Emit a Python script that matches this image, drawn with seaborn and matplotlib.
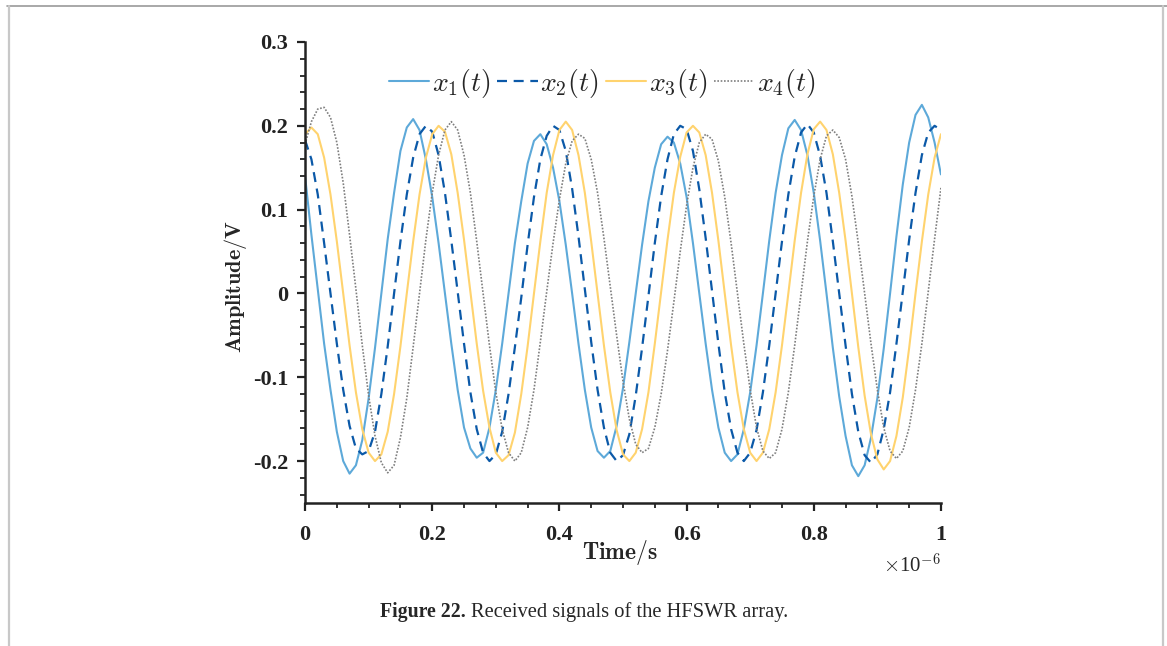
import numpy as np
import pandas as pd
import matplotlib
matplotlib.use("Agg")
import matplotlib.pyplot as plt
from matplotlib.lines import Line2D
from matplotlib.ticker import MultipleLocator
import seaborn as sns

# time axis in units of 1e-6 s
time_us = [round(0.01 * i, 2) for i in range(101)]

x1_vals = [0.14, 0.07, 0.005, -0.06, -0.115, -0.165, -0.2, -0.215, -0.205, -0.175,
           -0.125, -0.065, 0.0, 0.065, 0.12, 0.17, 0.198, 0.208, 0.195, 0.16,
           0.115, 0.06, 0.0, -0.06, -0.115, -0.16, -0.185, -0.196, -0.19, -0.16,
           -0.115, -0.06, 0.0, 0.06, 0.11, 0.155, 0.182, 0.19, 0.178, 0.15,
           0.11, 0.058, 0.0, -0.06, -0.115, -0.16, -0.188, -0.196, -0.188, -0.158,
           -0.113, -0.058, 0.0, 0.058, 0.11, 0.15, 0.178, 0.187, 0.18, 0.155,
           0.115, 0.06, 0.0, -0.06, -0.115, -0.16, -0.19, -0.2, -0.192, -0.162,
           -0.118, -0.062, 0.0, 0.063, 0.12, 0.165, 0.197, 0.207, 0.195, 0.165,
           0.12, 0.063, 0.0, -0.065, -0.123, -0.17, -0.205, -0.218, -0.205, -0.172,
           -0.125, -0.066, 0.0, 0.068, 0.13, 0.18, 0.213, 0.225, 0.21, 0.18,
           0.142]

x2_vals = [0.183, 0.16, 0.118, 0.06, 0.0, -0.06, -0.115, -0.158, -0.185, -0.192,
           -0.188, -0.165, -0.12, -0.063, 0.0, 0.062, 0.118, 0.162, 0.19, 0.2,
           0.193, 0.165, 0.12, 0.063, 0.002, -0.06, -0.118, -0.162, -0.19, -0.2,
           -0.192, -0.165, -0.12, -0.064, -0.005, 0.058, 0.115, 0.16, 0.188, 0.2,
           0.195, 0.17, 0.125, 0.068, 0.005, -0.058, -0.115, -0.16, -0.19, -0.2,
           -0.193, -0.168, -0.122, -0.065, -0.003, 0.06, 0.116, 0.16, 0.19, 0.2,
           0.196, 0.17, 0.124, 0.066, 0.003, -0.06, -0.118, -0.162, -0.19, -0.2,
           -0.19, -0.163, -0.118, -0.062, 0.0, 0.062, 0.118, 0.163, 0.192, 0.202,
           0.192, 0.164, 0.12, 0.062, 0.0, -0.062, -0.12, -0.165, -0.193, -0.202,
           -0.192, -0.162, -0.118, -0.06, 0.002, 0.064, 0.12, 0.165, 0.192, 0.2,
           0.195]

x3_vals = [0.19, 0.198, 0.19, 0.162, 0.118, 0.062, 0.0, -0.062, -0.118, -0.162,
           -0.19, -0.2, -0.192, -0.165, -0.12, -0.063, 0.0, 0.062, 0.118, 0.162,
           0.19, 0.2, 0.193, 0.166, 0.12, 0.064, 0.002, -0.06, -0.116, -0.16,
           -0.19, -0.2, -0.193, -0.166, -0.12, -0.063, 0.0, 0.062, 0.12, 0.165,
           0.195, 0.205, 0.195, 0.165, 0.12, 0.062, 0.0, -0.062, -0.118, -0.163,
           -0.192, -0.2, -0.19, -0.162, -0.118, -0.06, 0.002, 0.064, 0.12, 0.163,
           0.192, 0.2, 0.192, 0.165, 0.12, 0.063, 0.0, -0.062, -0.118, -0.162,
           -0.19, -0.2, -0.19, -0.162, -0.118, -0.062, 0.0, 0.063, 0.12, 0.166,
           0.196, 0.205, 0.195, 0.166, 0.12, 0.063, 0.0, -0.064, -0.122, -0.168,
           -0.198, -0.21, -0.2, -0.17, -0.124, -0.065, 0.0, 0.062, 0.118, 0.162,
           0.19]

x4_vals = [0.178, 0.205, 0.22, 0.222, 0.21, 0.18, 0.132, 0.07, 0.005, -0.062,
           -0.122, -0.17, -0.202, -0.214, -0.205, -0.172, -0.125, -0.064, 0.0, 0.064,
           0.12, 0.165, 0.195, 0.205, 0.195, 0.165, 0.12, 0.062, 0.0, -0.062,
           -0.118, -0.162, -0.19, -0.2, -0.19, -0.16, -0.115, -0.058, 0.002, 0.06,
           0.112, 0.155, 0.182, 0.19, 0.185, 0.16, 0.12, 0.066, 0.008, -0.05,
           -0.105, -0.15, -0.18, -0.19, -0.185, -0.16, -0.12, -0.068, -0.01, 0.05,
           0.105, 0.15, 0.18, 0.19, 0.184, 0.158, 0.115, 0.06, 0.0, -0.06,
           -0.115, -0.16, -0.188, -0.197, -0.19, -0.162, -0.118, -0.062, 0.0, 0.062,
           0.116, 0.16, 0.188, 0.195, 0.186, 0.16, 0.116, 0.06, 0.0, -0.06,
           -0.115, -0.16, -0.188, -0.197, -0.188, -0.16, -0.115, -0.06, 0.002, 0.065,
           0.126]

series_names = [r"$x_1(t)$", r"$x_2(t)$", r"$x_3(t)$", r"$x_4(t)$"]
y_ticks = [-0.2, -0.1, 0, 0.1, 0.2, 0.3]
y_tick_labels = ["-0.2", "-0.1", "0", "0.1", "0.2", "0.3"]
x_ticks = [0, 0.2, 0.4, 0.6, 0.8, 1]
x_tick_labels = ["0", "0.2", "0.4", "0.6", "0.8", "1"]

sns.set_style("ticks")
plt.rcParams["font.family"] = ["Liberation Serif", "DejaVu Serif"]
plt.rcParams["mathtext.fontset"] = "cm"

colors = ["#5DA9D9", "#0B59A8", "#FFD36E", "#7F7F7F"]
styles = ["-", (0, (4.5, 3)), "-", (0, (1, 1))]
widths = [1.5, 1.6, 1.5, 1.2]

fig = plt.figure(figsize=(11.67, 6.46), dpi=100)
ax = fig.add_axes([0.2614, 0.2214, 0.5449, 0.7136])

all_vals = [x1_vals, x2_vals, x3_vals, x4_vals]
for name, vals, c, ls, lw in zip(series_names, all_vals, colors, styles, widths):
    df = pd.DataFrame({"t": time_us, "v": vals})
    sns.lineplot(data=df, x="t", y="v", ax=ax, color=c, linestyle=ls,
                 linewidth=lw, label=name, legend=False)

ax.set_xlim(0, 1)
ax.set_ylim(-0.25, 0.3)
ax.set_xticks(x_ticks)
ax.set_xticklabels(x_tick_labels)
ax.set_yticks(y_ticks)
ax.set_yticklabels(y_tick_labels)
ax.xaxis.set_minor_locator(MultipleLocator(0.05))
ax.yaxis.set_minor_locator(MultipleLocator(0.02))
sns.despine(ax=ax)
for s in ["left", "bottom"]:
    ax.spines[s].set_linewidth(1.8)
    ax.spines[s].set_color("#222222")
ax.tick_params(which="major", direction="out", length=6, width=1.6,
               labelsize=16, colors="#222222", pad=6)
ax.tick_params(which="minor", direction="out", length=3.5, width=1.3, colors="#222222")
for lab in ax.get_xticklabels() + ax.get_yticklabels():
    lab.set_fontweight("bold")
ax.tick_params(axis="x", pad=10)
ax.set_xlabel("")
ax.set_ylabel("")

fig.text(0.531, 0.144, r"$\mathbf{Time/s}$", fontsize=17, ha="center", va="center")
fig.text(0.202, 0.556, r"$\mathbf{Amplitude/V}$", fontsize=16, ha="center",
         va="center", rotation=90)
fig.text(0.806, 0.124, r"$\times$10$^{\mathbf{-6}}$", fontsize=15, ha="right", va="center")

handles = [Line2D([], [], color=c, linestyle=ls, linewidth=lw)
           for c, ls, lw in zip(colors, styles, widths)]
fig.legend(handles, series_names, loc="center", bbox_to_anchor=(0.516, 0.871),
           ncol=4, frameon=False, fontsize=20, handlelength=1.45,
           handletextpad=0.1, columnspacing=0.25)

# caption
fig.text(0.3255, 0.052, "Figure 22.", fontsize=14.2, fontweight="bold",
         ha="left", va="center")
fig.text(0.4035, 0.052, "Received signals of the HFSWR array.", fontsize=14.8,
         ha="left", va="center")

# page frame lines
fig.add_artist(Line2D([0.006, 1.0], [0.991, 0.991], color="#9a9a9a", linewidth=1.2,
                      transform=fig.transFigure))
fig.add_artist(Line2D([0.0075, 0.0075], [0.0, 0.991], color="#c8c8c8", linewidth=1.6,
                      transform=fig.transFigure))
fig.add_artist(Line2D([0.997, 0.997], [0.0, 0.991], color="#c8c8c8", linewidth=1.6,
                      transform=fig.transFigure))

fig.savefig("out.png", dpi=100)
